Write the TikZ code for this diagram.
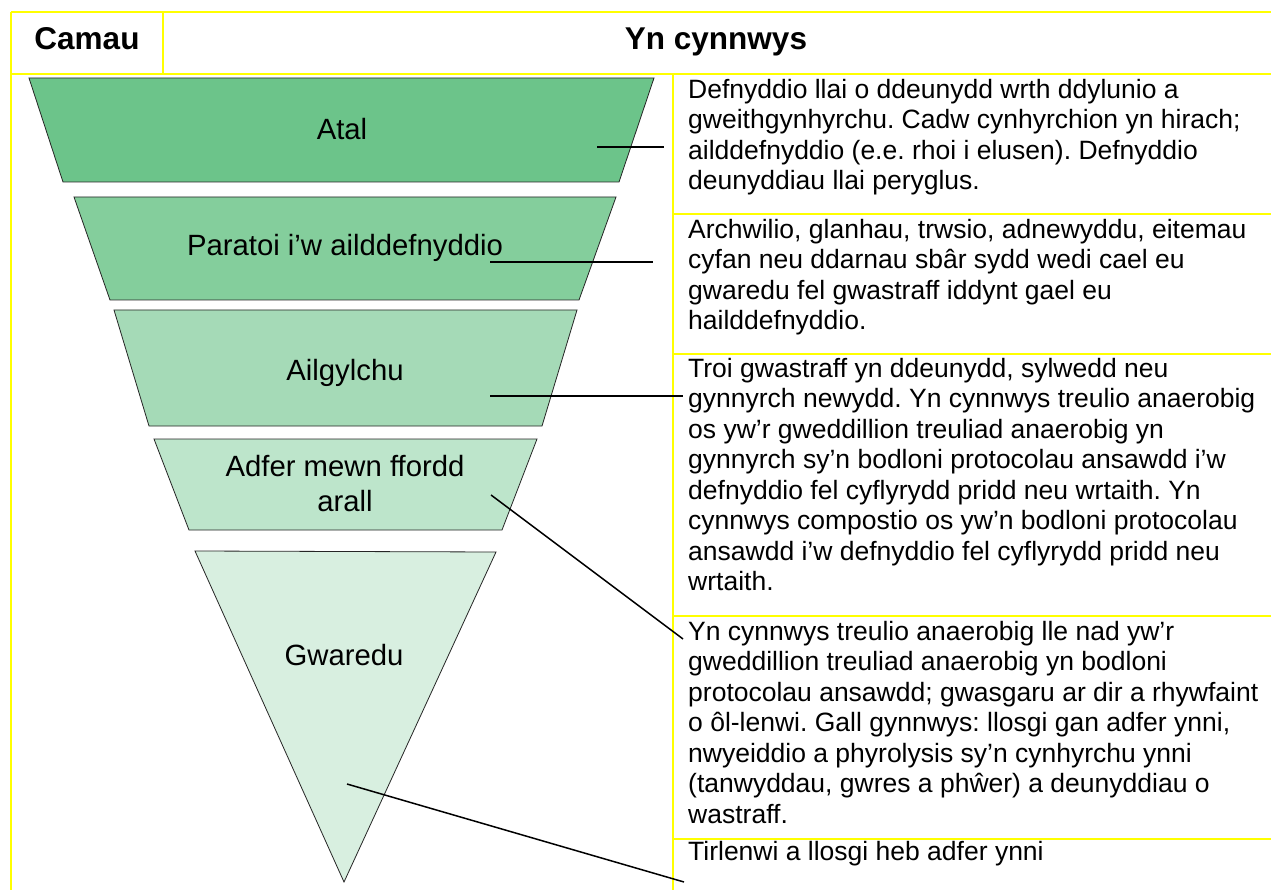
\documentclass[tikz,border=0pt]{standalone}
\usepackage{fontspec}
\setmainfont{Liberation Sans}[Ligatures=CommonOff]
\definecolor{gAtal}{RGB}{108,196,138}
\definecolor{gParatoi}{RGB}{132,206,156}
\definecolor{gAilgylchu}{RGB}{165,218,183}
\definecolor{gAdfer}{RGB}{189,229,203}
\definecolor{gGwaredu}{RGB}{216,239,224}
\definecolor{gridyellow}{RGB}{255,255,0}
\begin{document}
\frenchspacing
\begin{tikzpicture}[x=1pt,y=-1pt,
  grid/.style={draw=gridyellow,line width=1.8pt},
  band/.style={draw=black!85,line width=0.8pt},
  link/.style={draw=black,line width=1.5pt},
  desc/.style={anchor=north west,inner sep=0pt,align=left,font=\fontsize{26.5}{30.5}\selectfont},
  stage/.style={inner sep=0pt,align=center,font=\fontsize{29.3}{35}\selectfont},
  head/.style={anchor=base,inner sep=0pt,font=\fontsize{31.5}{36}\selectfont\bfseries}]
\useasboundingbox (0,0) rectangle (1271,890);
\fill[white] (0,0) rectangle (1271,890);
% table grid
\draw[grid] (11,12) -- (1271,12);
\draw[grid] (11,74) -- (1271,74);
\draw[grid] (11,12) -- (11,890);
\draw[grid] (163,12) -- (163,74);
\draw[grid] (673,74) -- (673,890);
\foreach \yy in {214,354,616,839} \draw[grid] (673,\yy) -- (1271,\yy);
% headers
\node[head] (hcamau) at (87,50) {Camau};
\node[head] (hcynnwys) at (716,50) {Yn cynnwys};
% funnel bands
\filldraw[band,fill=gAtal] (29,78) -- (654,78) -- (619,182) -- (63,182) -- cycle;
\filldraw[band,fill=gParatoi] (74,197) -- (616,197) -- (579,300) -- (110,300) -- cycle;
\filldraw[band,fill=gAilgylchu] (114,310) -- (577,310) -- (542,426) -- (149,426) -- cycle;
\filldraw[band,fill=gAdfer] (154,439) -- (537,439) -- (502,530) -- (189,530) -- cycle;
\filldraw[band,fill=gGwaredu] (195,551) -- (496,552) -- (344,882) -- cycle;
% stage labels
\node[stage,anchor=base] (atal) at (342,140) {Atal};
\node[stage,anchor=base] (paratoi) at (345,256) {Paratoi i’w ailddefnyddio};
\node[stage,anchor=base] (ailgylchu) at (345,380) {Ailgylchu};
\node[stage,anchor=north] (adfer) at (345,451.5) {\strut Adfer mewn ffordd\\arall};
\node[stage,anchor=base] (gwaredu) at (344,665) {Gwaredu};
% descriptions
\node[desc] (datal) at (688,76.6) {\strut Defnyddio llai o ddeunydd wrth ddylunio a\\
gweithgynhyrchu. Cadw cynhyrchion yn hirach;\\
ailddefnyddio (e.e. rhoi i elusen). Defnyddio\\
deunyddiau llai peryglus.};
\node[desc] (dparatoi) at (688,216.6) {\strut Archwilio, glanhau, trwsio, adnewyddu, eitemau\\
cyfan neu ddarnau sbâr sydd wedi cael eu\\
gwaredu fel gwastraff iddynt gael eu\\
hailddefnyddio.};
\node[desc] (dailgylchu) at (688,355.6) {\strut Troi gwastraff yn ddeunydd, sylwedd neu\\
gynnyrch newydd. Yn cynnwys treulio anaerobig\\
os yw’r gweddillion treuliad anaerobig yn\\
gynnyrch sy’n bodloni protocolau ansawdd i’w\\
defnyddio fel cyflyrydd pridd neu wrtaith. Yn\\
cynnwys compostio os yw’n bodloni protocolau\\
ansawdd i’w defnyddio fel cyflyrydd pridd neu\\
wrtaith.};
\node[desc] (dadfer) at (688,618.6) {\strut Yn cynnwys treulio anaerobig lle nad yw’r\\
gweddillion treuliad anaerobig yn bodloni\\
protocolau ansawdd; gwasgaru ar dir a rhywfaint\\
o ôl-lenwi. Gall gynnwys: llosgi gan adfer ynni,\\
nwyeiddio a phyrolysis sy’n cynhyrchu ynni\\
(tanwyddau, gwres a phŵer) a deunyddiau o\\
wastraff.};
\node[desc] (dgwaredu) at (688,838.6) {\strut Tirlenwi a llosgi heb adfer ynni};
% connectors
\coordinate (a1) at (597,147); \coordinate (a2) at (664,147);
\coordinate (p1) at (490,262); \coordinate (p2) at (653,262);
\coordinate (l1) at (490,396); \coordinate (l2) at (683,396);
\coordinate (f1) at (491,495); \coordinate (f2) at (683,639);
\coordinate (g1) at (347,784); \coordinate (g2) at (684,882);
\draw[link] (a1) -- (a2);
\draw[link] (p1) -- (p2);
\draw[link] (l1) -- (l2);
\draw[link] (f1) -- (f2);
\draw[link] (g1) -- (g2);
\end{tikzpicture}
\end{document}
